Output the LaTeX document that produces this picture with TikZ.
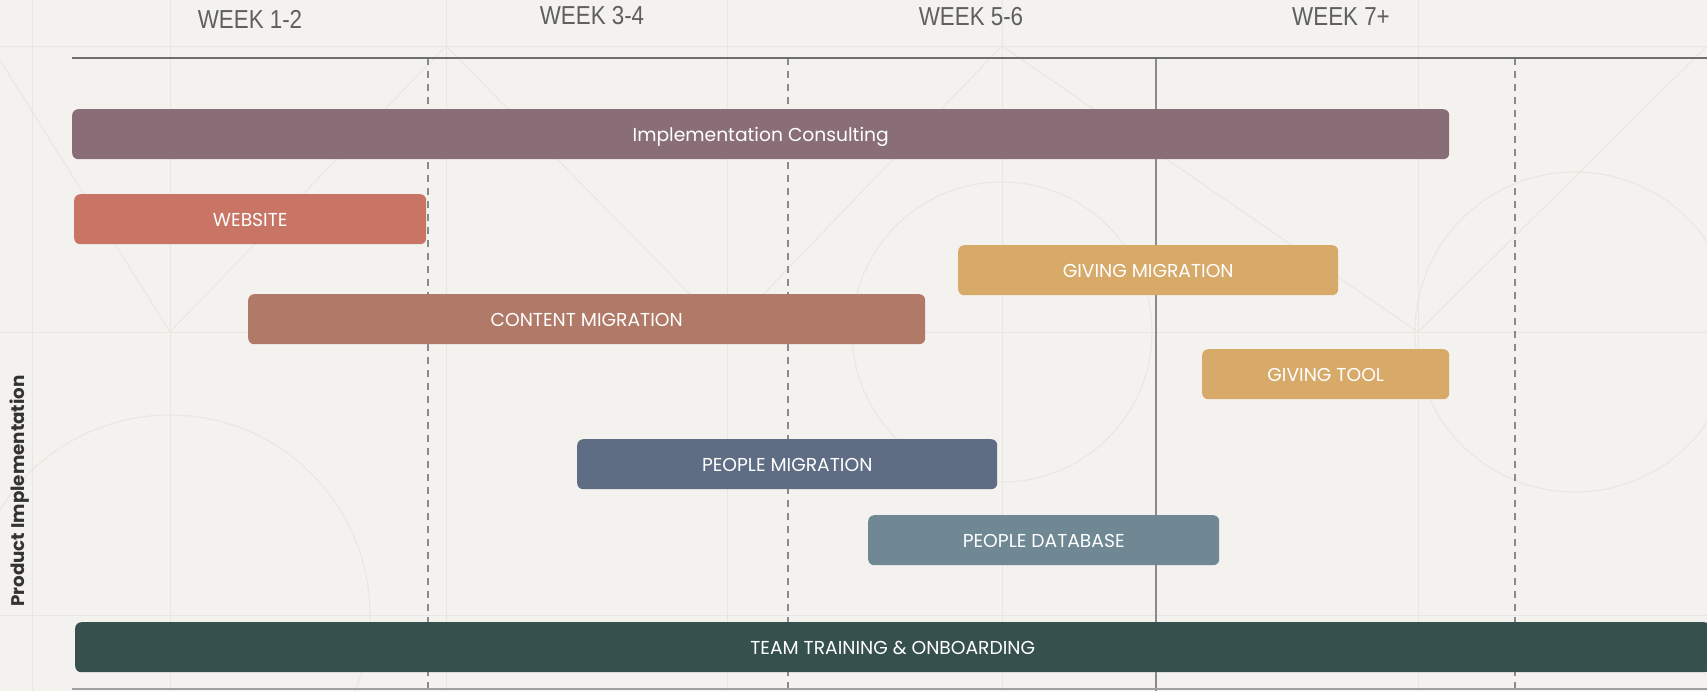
\documentclass[tikz,border=0pt]{standalone}
\usepackage{fontspec}
\setmainfont{Poppins}
\newfontfamily\hdrfont[FakeStretch=0.86]{Liberation Sans}
\definecolor{bgc}{HTML}{F4F2EE}
\definecolor{patc}{HTML}{E8E6E1}
\definecolor{hdrc}{HTML}{5F5F5F}
\definecolor{linec}{HTML}{8A8A8A}
\definecolor{cIC}{HTML}{8A6E77}
\definecolor{cWEB}{HTML}{C87565}
\definecolor{cGIV}{HTML}{D8AA6A}
\definecolor{cCON}{HTML}{B17A68}
\definecolor{cPM}{HTML}{5E6D83}
\definecolor{cPD}{HTML}{708893}
\definecolor{cTT}{HTML}{36504D}
\begin{document}
\begin{tikzpicture}[x=1pt,y=-1pt,
  bar/.style={rounded corners=6pt, anchor=north west, inner sep=0pt, text=white,
    font=\fontsize{18.7}{22}\selectfont, minimum height=50pt,
    text height=15pt, text depth=0pt},
  hdr/.style={font=\hdrfont\fontsize{26}{30}\selectfont, text=hdrc, inner sep=0pt},
  grid/.style={linec, line width=1.5pt},
  dgrid/.style={grid, dash pattern=on 7pt off 6pt},
  pat/.style={patc, line width=1pt}]
\useasboundingbox (0,0) rectangle (1707,691);
\fill[bgc] (0,0) rectangle (1707,691);
% faint background pattern
\draw[pat] (0,46) -- (1707,46);
\draw[pat] (0,332) -- (1707,332);
\draw[pat] (0,615) -- (1707,615);
\draw[pat] (170,0) -- (170,691);
\draw[pat] (446,0) -- (446,691);
\draw[pat] (727,0) -- (727,691);
\draw[pat] (1002,0) -- (1002,691);
\draw[pat] (1418,0) -- (1418,691);
\draw[pat] (32,0) -- (32,691);
\draw[pat] (0,60) -- (170,332) -- (446,46);
\draw[pat] (446,46) -- (727,332) -- (1002,46);
\draw[pat] (1002,46) -- (1418,332) -- (1707,46);
\draw[pat] (170,615) circle (200);
\draw[pat] (1002,332) circle (150);
\draw[pat] (1575,332) circle (160);
% grid coordinates
\coordinate (hl) at (72,58);
\coordinate (hr) at (1707,58);
\coordinate (bl) at (72,689);
\coordinate (br) at (1707,689);
\foreach \n/\x in {a/428,b/788,c/1156,d/1515}{
  \coordinate (\n t) at (\x,58);
  \coordinate (\n b) at (\x,691);
}
\draw[dgrid] (at) -- (ab);
\draw[dgrid] (bt) -- (bb);
\draw[grid] (ct) -- (cb);
\draw[dgrid] (dt) -- (db);
\draw[hdrc!90, line width=2pt] (hl) -- (hr);
\draw[linec!80, line width=1.5pt] (bl) -- (br);
% header labels
\node[hdr] (w12) at (250,19) {WEEK 1-2};
\node[hdr] (w34) at (592,16) {WEEK 3-4};
\node[hdr] (w56) at (971,17) {WEEK 5-6};
\node[hdr] (w7) at (1341,17) {WEEK 7+};
% side label
\node[rotate=90, font=\bfseries\fontsize{18.3}{22}\selectfont, text=black!80, inner sep=0pt] (pi) at (20,491) {Product Implementation};
% bars
\node[bar, fill=cIC, minimum width=1377pt] (ic) at (72,109) {Implementation Consulting};
\node[bar, fill=cWEB, minimum width=352pt] (web) at (74,194) {WEBSITE};
\node[bar, fill=cGIV, minimum width=380pt] (gm) at (958,245) {GIVING MIGRATION};
\node[bar, fill=cCON, minimum width=677pt] (cm) at (248,294) {CONTENT MIGRATION};
\node[bar, fill=cGIV, minimum width=247pt] (gt) at (1202,349) {GIVING TOOL};
\node[bar, fill=cPM, minimum width=420pt] (pm) at (577,439) {PEOPLE MIGRATION};
\node[bar, fill=cPD, minimum width=351pt] (pd) at (868,515) {PEOPLE DATABASE};
\node[bar, fill=cTT, minimum width=1635pt] (tt) at (75,622) {TEAM TRAINING \& ONBOARDING};
\end{tikzpicture}
\end{document}
